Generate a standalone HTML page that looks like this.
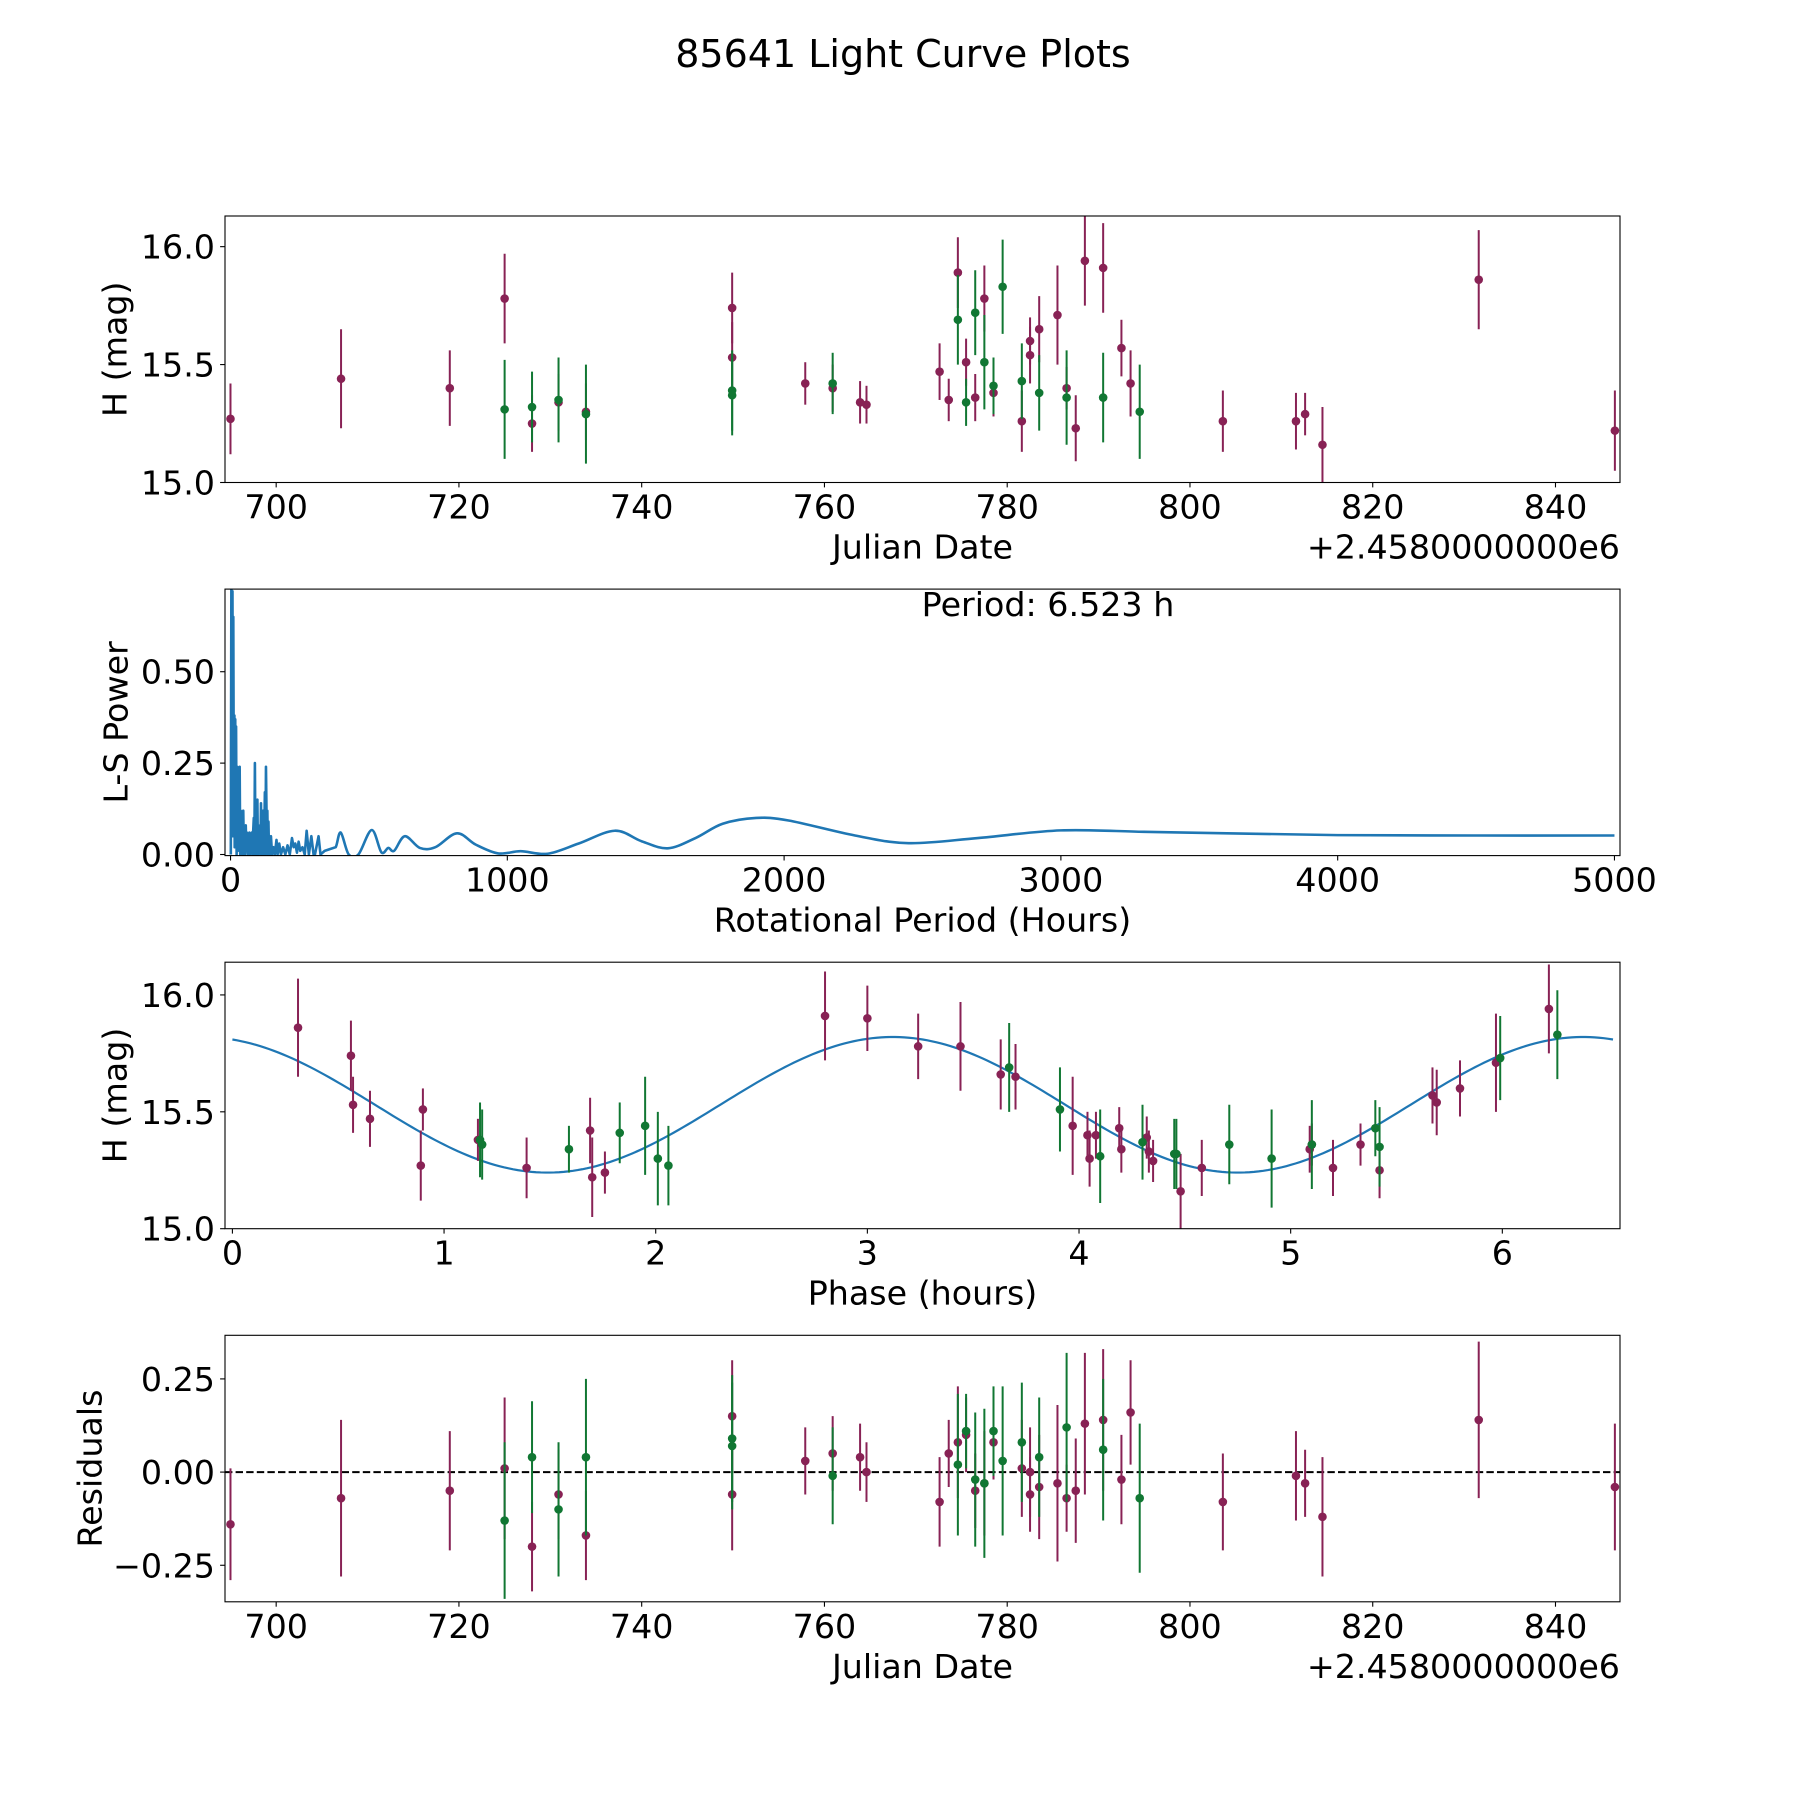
<!DOCTYPE html>
<html><head><meta charset="utf-8"><style>
html,body{margin:0;padding:0;background:#fff;}
svg{display:block;font-family:"DejaVu Sans","Liberation Sans",sans-serif;}
</style></head><body>
<svg id="fig" width="1800" height="1800" viewBox="0 0 1800 1800" xmlns="http://www.w3.org/2000/svg">
<rect width="1800" height="1800" fill="#fff"/>
<text x="903" y="67" font-size="38" text-anchor="middle">85641 Light Curve Plots</text>
</svg>
<script>
// ---- Panel 1 / 4 data: Julian date observations ----
const purpleDates = [695.0,707.1,719.0,725.0,728.0,730.9,733.9,749.9,749.9,757.9,760.9,763.9,764.6,772.6,773.6,774.6,775.5,776.5,777.5,778.5,781.6,782.5,782.5,783.5,785.5,786.5,787.5,788.5,790.5,792.5,793.5,803.6,811.6,812.6,814.5,831.6,846.5];
const purpleMags = [15.27,15.44,15.40,15.78,15.25,15.34,15.30,15.74,15.53,15.42,15.40,15.34,15.33,15.47,15.35,15.89,15.51,15.36,15.78,15.38,15.26,15.60,15.54,15.65,15.71,15.40,15.23,15.94,15.91,15.57,15.42,15.26,15.26,15.29,15.16,15.86,15.22];
const purpleErrs = [0.15,0.21,0.16,0.19,0.12,0.12,0.12,0.15,0.15,0.09,0.10,0.09,0.08,0.12,0.09,0.15,0.10,0.10,0.14,0.10,0.13,0.10,0.12,0.14,0.21,0.09,0.14,0.19,0.19,0.12,0.14,0.13,0.12,0.09,0.16,0.21,0.17];
const purpleResid = [-0.14,-0.07,-0.05,0.01,-0.20,-0.06,-0.17,0.15,-0.06,0.03,0.05,0.04,0.00,-0.08,0.05,0.08,0.10,-0.05,-0.03,0.08,0.01,-0.06,0.00,-0.04,-0.03,-0.07,-0.05,0.13,0.14,-0.02,0.16,-0.08,-0.01,-0.03,-0.12,0.14,-0.04];
const greenDates = [725.0,728.0,730.9,733.9,749.9,749.9,760.9,774.6,775.5,776.5,777.5,778.5,779.5,781.6,783.5,786.5,790.5,794.5];
const greenMags = [15.31,15.32,15.35,15.29,15.39,15.37,15.42,15.69,15.34,15.72,15.51,15.41,15.83,15.43,15.38,15.36,15.36,15.30];
const greenErrs = [0.21,0.15,0.18,0.21,0.17,0.17,0.13,0.19,0.10,0.18,0.20,0.12,0.20,0.16,0.16,0.20,0.19,0.20];
const greenResid = [-0.13,0.04,-0.10,0.04,0.09,0.07,-0.01,0.02,0.11,-0.02,-0.03,0.11,0.03,0.08,0.04,0.12,0.06,-0.07];
// ---- Panel 2: periodogram ----
const lsPeriods = [1,3,5,7,9,10,12,14,15,17,19,20,22,24,26,28,30,33,35,37,40,42,44,46,48,50,52,55,57,59,62,64,66,68,70,72,74,77,79,81,84,86,88,90,92,94,97,99,101,103,106,108,110,112,114,116,118,120,122,124,126,128,131,133,135,137,139,142,144,146,150,155,160,166,170,176,182,190,198,206,214,222,228,234,240,246,252,260,268,275,283,292,300,305,318,325,340,360,380,398,427,462,510,545,570,591,630,684,740,818,886,967,1048,1145,1258,1388,1486,1580,1680,1778,1899,2016,2256,2450,2700,3000,3300,3600,4000,4500,5000];
const lsPower = [0.0,0.75,0.40,0.72,0.05,0.65,0.10,0.38,0.02,0.37,0.03,0.35,0.0,0.24,0.01,0.23,0.02,0.24,0.0,0.12,0.03,0.08,0.0,0.12,0.01,0.07,0.0,0.08,0.02,0.06,0.0,0.05,0.01,0.06,0.0,0.04,0.03,0.06,0.0,0.05,0.10,0.0,0.25,0.01,0.06,0.0,0.15,0.0,0.06,0.01,0.08,0.0,0.14,0.01,0.07,0.0,0.12,0.0,0.05,0.17,0.0,0.24,0.05,0.12,0.0,0.09,0.0,0.03,0.0,0.05,0.0,0.02,0.0,0.04,0.0,0.03,0.0,0.02,0.0,0.025,0.0,0.045,0.02,0.03,0.005,0.035,0.01,0.02,0.0,0.065,0.0,0.05,0.0,0.0,0.05,0.0,0.01,0.015,0.02,0.06,0.0,0.0,0.067,0.006,0.018,0.01,0.05,0.018,0.02,0.058,0.027,0.003,0.009,0.002,0.03,0.065,0.036,0.017,0.045,0.084,0.100,0.093,0.052,0.031,0.045,0.066,0.062,0.058,0.053,0.052,0.052];
// ---- Panel 3: phased light curve ----
const purplePhase = [0.31,0.56,0.57,0.65,0.90,0.89,1.16,1.39,1.69,1.70,1.76,2.80,3.00,3.24,3.44,3.63,3.70,3.97,4.04,4.05,4.08,4.19,4.20,4.32,4.33,4.35,4.48,4.58,5.09,5.10,5.20,5.33,5.42,5.67,5.69,5.80,5.97,6.22];
const purplePhaseMag = [15.86,15.74,15.53,15.47,15.51,15.27,15.38,15.26,15.42,15.22,15.24,15.91,15.90,15.78,15.78,15.66,15.65,15.44,15.40,15.30,15.40,15.43,15.34,15.39,15.33,15.29,15.16,15.26,15.34,15.36,15.26,15.36,15.25,15.57,15.54,15.60,15.71,15.94];
const purplePhaseErr = [0.21,0.15,0.12,0.12,0.09,0.15,0.09,0.13,0.14,0.17,0.09,0.19,0.14,0.14,0.19,0.15,0.14,0.21,0.10,0.12,0.10,0.09,0.10,0.09,0.09,0.09,0.16,0.12,0.10,0.09,0.12,0.09,0.12,0.12,0.14,0.12,0.21,0.19];
const greenPhase = [1.17,1.18,1.59,1.83,1.95,2.01,2.06,3.67,3.91,4.10,4.30,4.45,4.46,4.71,4.91,5.10,5.40,5.42,5.99,6.26];
const greenPhaseMag = [15.38,15.36,15.34,15.41,15.44,15.30,15.27,15.69,15.51,15.31,15.37,15.32,15.32,15.36,15.30,15.36,15.43,15.35,15.73,15.83];
const greenPhaseErr = [0.16,0.15,0.10,0.13,0.21,0.20,0.17,0.19,0.18,0.20,0.16,0.15,0.15,0.17,0.21,0.19,0.12,0.17,0.18,0.19];
const modelParams = [15.53, 0.29, 3.12, 3.2615]; // mean, amplitude, phase of max, period
const modelRange = [0, 6.523];
const periodHours = [6.523];

const t1 = [700,720,740,760,780,800,820,840];
const y1 = [15.0,15.5,16.0];
const t2x = [0,1000,2000,3000,4000,5000];
const t2y = [0.00,0.25,0.50];
const t3x = [0,1,2,3,4,5,6];
const t4y = [-0.25,0.00,0.25];

const NS='http://www.w3.org/2000/svg';
const svg=document.getElementById('fig');
function el(tag,attrs,parent){const e=document.createElementNS(NS,tag);for(const k in attrs)e.setAttribute(k,attrs[k]);(parent||svg).appendChild(e);return e;}
const L=225,R=1620,H=266.5,tops=[216,589.1,962.2,1335.3];
const PURPLE='#882255',GREEN='#117733',BLUE='#1f77b4';

function makeAxis(i,xlim,ylim,name){
  const top=tops[i],bot=top+H;
  const g=el('g',{});
  
  
  const sx=v=>L+(v-xlim[0])/(xlim[1]-xlim[0])*(R-L);
  const sy=v=>bot-(v-ylim[0])/(ylim[1]-ylim[0])*H;
  return {g,sx,sy,top,bot};
}
function frame(ax,xt,yt,xfmt,yfmt,xlabel,ylabel,ylabx,offset){
  const f=el('rect',{x:L,y:ax.top,width:R-L,height:H,fill:'none',stroke:'#000','stroke-width':1.1},ax.g);
  
  
  xt.forEach(v=>{const x=ax.sx(v);
    el('line',{x1:x,x2:x,y1:ax.bot,y2:ax.bot+4.9,stroke:'#000','stroke-width':1.1},ax.g);
    const t=el('text',{x:x,y:ax.bot+36,'font-size':33.3,'text-anchor':'middle'},ax.g);t.textContent=xfmt(v);
    
    });
  yt.forEach(v=>{const y=ax.sy(v);
    el('line',{x1:L-4.9,x2:L,y1:y,y2:y,stroke:'#000','stroke-width':1.1},ax.g);
    const t=el('text',{x:L-10,y:y+12,'font-size':33.3,'text-anchor':'end'},ax.g);t.textContent=yfmt(v);
    
    });
  const xl=el('text',{x:(L+R)/2,y:ax.bot+76,'font-size':33.3,'text-anchor':'middle'},ax.g);xl.textContent=xlabel;
  
  
  const cy=ax.top+H/2;
  const yl=el('text',{x:ylabx,y:cy,'font-size':33.3,'text-anchor':'middle','dominant-baseline':'central',transform:`rotate(-90 ${ylabx} ${cy})`},ax.g);yl.textContent=ylabel;
  
  
  if(offset){const o=el('text',{x:R,y:ax.bot+76,'font-size':33.3,'text-anchor':'end'},ax.g);o.textContent=offset;
    
    }
}
function clip(ax,id){const c=el('clipPath',{id:id});el('rect',{x:L,y:ax.top,width:R-L,height:H},c);const g=el('g',{'clip-path':`url(#${id})`},ax.g);return g;}
function points(ax,g,xs,ys,es,color,name){
  xs.forEach((x,k)=>{const px=ax.sx(x),py=ax.sy(ys[k]);
    const ln=el('line',{x1:px,x2:px,y1:ax.sy(ys[k]-es[k]),y2:ax.sy(ys[k]+es[k]),stroke:color,'stroke-width':2},g);
    
    
    const c=el('circle',{cx:px,cy:py,r:4.3,fill:color},g);
    
    });
}
const f0=v=>String(v),f1=v=>v.toFixed(1),f2=v=>v.toFixed(2).replace('-','\u2212');
const XL=[694.4,847.06];

// Panel 1
const a1=makeAxis(0,XL,[15.0,16.13],'light-curve-panel');
const g1=clip(a1,'c1');
points(a1,g1,purpleDates,purpleMags,purpleErrs,PURPLE,'purple-obs');
points(a1,g1,greenDates,greenMags,greenErrs,GREEN,'green-obs');
frame(a1,t1,y1,f0,f1,'Julian Date','H (mag)',115,'+2.4580000000e6');

// Panel 2
const a2=makeAxis(1,[-20,5020],[-0.003,0.726],'periodogram-panel');
const g2=clip(a2,'c2');
const P=lsPeriods.map((p,k)=>[a2.sx(p),a2.sy(lsPower[k])]);
let d='M'+P[0][0]+','+P[0][1];
for(let k=1;k<P.length;k++){
  if(lsPeriods[k]<=380){d+=' L'+P[k][0]+','+P[k][1];continue;}
  const p0=P[Math.max(k-2,0)],p1=P[k-1],p2=P[k],p3=P[Math.min(k+1,P.length-1)];
  const c1=[p1[0]+(p2[0]-p0[0])/6,p1[1]+(p2[1]-p0[1])/6];
  const c2=[p2[0]-(p3[0]-p1[0])/6,p2[1]-(p3[1]-p1[1])/6];
  d+=` C${c1[0]},${c1[1]} ${c2[0]},${c2[1]} ${p2[0]},${p2[1]}`;
}
const pl=el('path',{d:d,fill:'none',stroke:BLUE,'stroke-width':2.6,'stroke-linejoin':'round'},g2);


frame(a2,t2x,t2y,f0,f2,'Rotational Period (Hours)','L-S Power',116,null);
const pt=el('text',{x:1048,y:616,'font-size':33.3,'text-anchor':'middle'},a2.g);pt.textContent='Period: '+periodHours[0].toFixed(3)+' h';



// Panel 3
const a3=makeAxis(2,[-0.035,6.556],[15.0,16.14],'phase-panel');
const g3=clip(a3,'c3');
const mp=[];for(let k=0;k<=300;k++){const x=modelRange[0]+(modelRange[1]-modelRange[0])*k/300;
  const y=modelParams[0]+modelParams[1]*Math.cos(2*Math.PI*(x-modelParams[2])/modelParams[3]);mp.push(a3.sx(x)+','+a3.sy(y));}
const ml=el('polyline',{points:mp.join(' '),fill:'none',stroke:BLUE,'stroke-width':2.2},g3);


points(a3,g3,purplePhase,purplePhaseMag,purplePhaseErr,PURPLE,'purple-phase');
points(a3,g3,greenPhase,greenPhaseMag,greenPhaseErr,GREEN,'green-phase');
frame(a3,t3x,y1,f0,f1,'Phase (hours)','H (mag)',115,null);

// Panel 4
const a4=makeAxis(3,XL,[-0.348,0.367],'residuals-panel');
const g4=clip(a4,'c4');
const zl=el('line',{x1:L,x2:R,y1:a4.sy(0),y2:a4.sy(0),stroke:'#000','stroke-width':2,'stroke-dasharray':'7.4,3.2'},g4);


points(a4,g4,purpleDates,purpleResid,purpleErrs,PURPLE,'purple-resid');
points(a4,g4,greenDates,greenResid,greenErrs,GREEN,'green-resid');
frame(a4,t1,t4y,f0,f2,'Julian Date','Residuals',90,'+2.4580000000e6');
</script>
</body></html>
